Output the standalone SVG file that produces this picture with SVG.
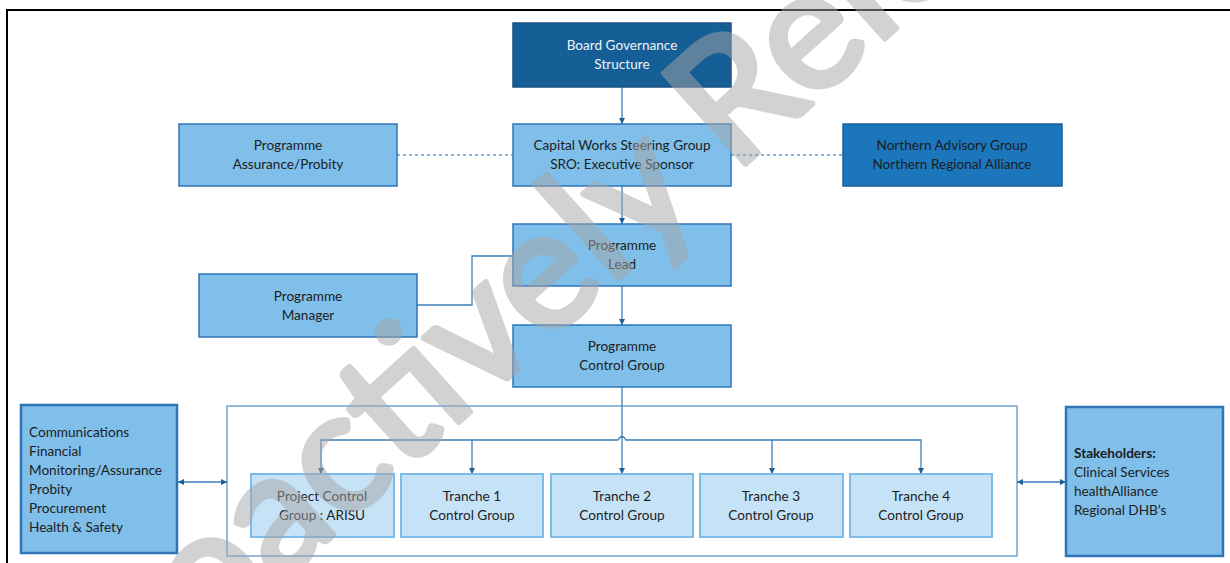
<svg xmlns="http://www.w3.org/2000/svg" width="1230" height="563" viewBox="0 0 1230 563">
<defs>
<style>
.t{font-family:Lato,"Open Sans","Liberation Sans",sans-serif;font-size:13.6px;fill:#1d1d1d}
.c{text-anchor:middle}
.w{fill:#eef3f8}
.b{font-weight:bold}
.mid{fill:#7fbfea;stroke:#2e75b6;stroke-width:1.5}
.dark{fill:#155f96;stroke:#1b5184;stroke-width:1.5}
.nav{fill:#1b76bb;stroke:#1a5f9a;stroke-width:1.5}
.lt{fill:#c6e2f7;stroke:#7dbbe8;stroke-width:2}
.side{fill:#7fbfea;stroke:#2e75b6;stroke-width:2.5}
.ln{fill:none;stroke:#3b7fba;stroke-width:1.3}
.dot{fill:none;stroke:#5b9bd5;stroke-width:1.5;stroke-dasharray:3 3}
</style>
<marker id="ah" viewBox="0 0 10 10" refX="10" refY="5" markerWidth="6" markerHeight="6" orient="auto-start-reverse" markerUnits="userSpaceOnUse">
<path d="M0,0 L10,5 L0,10 z" fill="#1f5f95"/>
</marker>
</defs>
<rect width="1230" height="563" fill="#ffffff"/>
<path d="M7,563 L7,10 L1230,10" fill="none" stroke="#000" stroke-width="2"/>

<g id="container"><rect x="227" y="406" width="790" height="150" fill="none" stroke="#4f8fc7" stroke-width="1.2"/></g>

<g id="connectors">
<line class="ln" x1="622" y1="87" x2="622" y2="124" marker-end="url(#ah)"/>
<line class="ln" x1="622" y1="186" x2="622" y2="224" marker-end="url(#ah)"/>
<line class="ln" x1="622" y1="286" x2="622" y2="325" marker-end="url(#ah)"/>
<line class="ln" x1="622" y1="387" x2="622" y2="474" marker-end="url(#ah)"/>
<path class="ln" d="M321,474 L321,440 L618,440 Q622,433 626,440 L921,440 L921,474" marker-start="url(#ah)" marker-end="url(#ah)"/>
<line class="ln" x1="472" y1="440" x2="472" y2="474" marker-end="url(#ah)"/>
<line class="ln" x1="772" y1="440" x2="772" y2="474" marker-end="url(#ah)"/>
<path class="ln" d="M417,305 L472,305 L472,256 L513,256"/>
<line class="dot" x1="397" y1="155" x2="513" y2="155"/>
<line class="dot" x1="731" y1="155" x2="843" y2="155"/>
<line class="ln" x1="178" y1="482" x2="227" y2="482" marker-start="url(#ah)" marker-end="url(#ah)"/>
<line class="ln" x1="1017" y1="482" x2="1066" y2="482" marker-start="url(#ah)" marker-end="url(#ah)"/>
</g>

<g id="board"><rect class="dark" x="513" y="23" width="218" height="64"/>
<text class="t c w" x="622" y="50">Board Governance</text><text class="t c w" x="622" y="69">Structure</text></g>

<g id="steering"><rect class="mid" x="513" y="124" width="218" height="62"/>
<text class="t c" x="622" y="150">Capital Works Steering Group</text><text class="t c" x="622" y="169">SRO: Executive Sponsor</text></g>

<g id="assurance"><rect class="mid" x="179" y="124" width="218" height="62"/>
<text class="t c" x="288" y="150">Programme</text><text class="t c" x="288" y="169">Assurance/Probity</text></g>

<g id="northern"><rect class="nav" x="843" y="124" width="219" height="62"/>
<text class="t c" x="952" y="150">Northern Advisory Group</text><text class="t c" x="952" y="169">Northern Regional Alliance</text></g>

<g id="lead"><rect class="mid" x="513" y="224" width="218" height="62"/>
<text class="t c" x="622" y="250">Programme</text><text class="t c" x="622" y="269">Lead</text></g>

<g id="manager"><rect class="mid" x="199" y="274" width="218" height="63"/>
<text class="t c" x="308" y="301">Programme</text><text class="t c" x="308" y="320">Manager</text></g>

<g id="control"><rect class="mid" x="513" y="325" width="218" height="62"/>
<text class="t c" x="622" y="351">Programme</text><text class="t c" x="622" y="370">Control Group</text></g>

<g id="arisu"><rect class="lt" x="251" y="474" width="143" height="63"/>
<text class="t c" x="322" y="501">Project Control</text><text class="t c" x="322" y="520">Group : ARISU</text></g>
<g id="t1"><rect class="lt" x="401" y="474" width="142" height="63"/>
<text class="t c" x="472" y="501">Tranche 1</text><text class="t c" x="472" y="520">Control Group</text></g>
<g id="t2"><rect class="lt" x="551" y="474" width="142" height="63"/>
<text class="t c" x="622" y="501">Tranche 2</text><text class="t c" x="622" y="520">Control Group</text></g>
<g id="t3"><rect class="lt" x="700" y="474" width="143" height="63"/>
<text class="t c" x="771" y="501">Tranche 3</text><text class="t c" x="771" y="520">Control Group</text></g>
<g id="t4"><rect class="lt" x="850" y="474" width="142" height="63"/>
<text class="t c" x="921" y="501">Tranche 4</text><text class="t c" x="921" y="520">Control Group</text></g>

<g id="functions"><rect class="side" x="21" y="405" width="156" height="148"/>
<text class="t" x="29" y="437">Communications</text>
<text class="t" x="29" y="456">Financial</text>
<text class="t" x="29" y="475">Monitoring/Assurance</text>
<text class="t" x="29" y="494">Probity</text>
<text class="t" x="29" y="513">Procurement</text>
<text class="t" x="29" y="532">Health &amp; Safety</text></g>

<g id="stakeholders"><rect class="side" x="1066" y="407" width="157" height="149"/>
<text class="t b" x="1074" y="458">Stakeholders:</text>
<text class="t" x="1074" y="477">Clinical Services</text>
<text class="t" x="1074" y="496">healthAlliance</text>
<text class="t" x="1074" y="515">Regional DHB’s</text></g>

<g id="watermark" opacity="0.5"><text transform="translate(89,755) rotate(-42)" font-family="Lato,'Open Sans',sans-serif" font-size="170" fill="#a6a6a6" stroke="#a6a6a6" stroke-width="6" stroke-linejoin="round">Proactively Released</text></g>
</svg>
